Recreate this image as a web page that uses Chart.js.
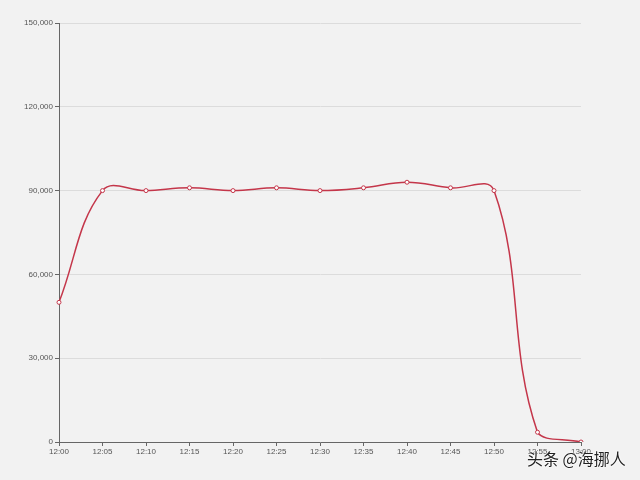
<!DOCTYPE html>
<html>
<head>
<meta charset="utf-8">
<script src="https://cdn.jsdelivr.net/npm/chart.js@4"></script>
<style>
  html, body { margin: 0; padding: 0; background: #f2f2f2; }
  #wrap { position: relative; width: 640px; height: 480px; }
  #mark {
    position: absolute; left: 527px; top: 446px;
    font-family: "Noto Sans CJK SC", sans-serif; font-size: 16px; color: #222;
    text-shadow: 0 0 2px #fff, 0 0 2px #fff;
  }
</style>
</head>
<body>
<div id="wrap">
  <canvas id="chart" width="640" height="480"></canvas>
  <div id="mark">头条 @海挪人</div>
</div>
<script>
const times = ['12:00','12:05','12:10','12:15','12:20','12:25','12:30','12:35','12:40','12:45','12:50','12:55','13:00'];
const values = [50000, 90000, 90000, 91000, 90000, 91000, 90000, 91000, 93000, 91000, 90000, 3500, 0];

function chartIt(){
    const ctx = document.getElementById('chart').getContext('2d');
    const chart = new Chart(ctx, {
        type: 'line',
        data: {
            labels: times,
            datasets: [{
                data: values,
                borderColor: '#c4364a',
                borderWidth: 1.5,
                tension: 0.4,
                pointRadius: 2,
                pointBorderWidth: 1,
                pointBackgroundColor: '#fff',
                pointBorderColor: '#c4364a'
            }]
        },
        options: {
            responsive: false,
            animation: false,
            layout: { padding: { top: 23, right: 59, left: 0, bottom: 0 } },
            plugins: { legend: { display: false }, tooltip: { enabled: false } },
            scales: {
                x: {
                    afterFit: s => { s.height = 38; },
                    grid: { drawOnChartArea: false, tickLength: 4, tickColor: '#666' },
                    border: { color: '#666', width: 1 },
                    ticks: { color: '#555', font: { size: 8 }, padding: 1, maxRotation: 0, autoSkip: false }
                },
                y: {
                    min: 0, max: 150000,
                    afterFit: s => { s.width = 59; },
                    grid: { color: '#dcdcdc', tickLength: 4, tickColor: '#666' },
                    border: { color: '#666', width: 1 },
                    ticks: { stepSize: 30000, color: '#555', font: { size: 8 }, padding: 2 }
                }
            }
        }
    });
}

if (times && values){
    chartIt();
}
</script>
</body>
</html>
